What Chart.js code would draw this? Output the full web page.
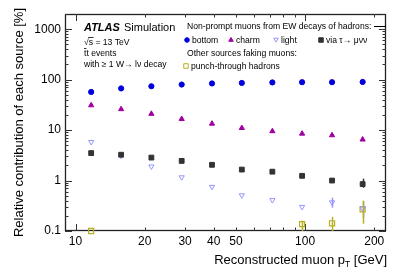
<!DOCTYPE html>
<html>
<head>
<meta charset="utf-8">
<script src="https://cdn.jsdelivr.net/npm/chart.js@4"></script>
<style>
  html, body { margin: 0; padding: 0; background: #fff; }
  #wrap { width: 407px; height: 276px; }
</style>
</head>
<body>
<div id="wrap"><canvas id="fakeChart"></canvas></div>
<script>
// reconstructed muon pT bin centres [GeV]
var ptValues = [11.7, 15.8, 21.4, 29, 39.3, 53, 72, 97, 131, 178];

// relative contribution of each source [%]
var bottomData = [57, 67, 74, 80, 84, 86, 88, 89, 89, 90];
var charmData = [31, 26, 21, 16.6, 13.4, 11, 9.5, 8.5, 7.9, 6.5];
var tauData = [3.5, 3.25, 2.85, 2.45, 2.05, 1.65, 1.5, 1.24, 1.0, 0.85];
var lightData = [5.8, 3.1, 1.9, 1.16, 0.75, 0.51, 0.41, 0.30, 0.37, 0.28];
var punchData = [0.1, null, null, null, null, null, null, 0.137, 0.142, 0.27];

// error bars [low, high] (only where larger than the marker)
var tauErr = [null, null, null, null, null, null, null, null, null, [0.72, 1.09]];
var lightErr = [null, null, null, null, null, null, null, null, [0.29, 0.46], [0.18, 0.39]];
var punchErr = [null, null, null, null, null, null, null, [0.1, 0.16], [0.1, 0.19], [0.14, 0.4]];

var xTicks = [10, 20, 30, 40, 50, 100, 200];
var yTicks = [0.1, 1, 10, 100, 1000];

var FONT = '"Liberation Sans", Arial, Helvetica, sans-serif';

function toPoints(arr) {
    var out = [];
    arr.forEach(function (v, i) {
        if (v !== null) out.push({ x: ptValues[i], y: v });
    });
    return out;
}

// error bars, drawn before the markers
var errorBars = {
    id: 'errorBars',
    beforeDatasetsDraw: function (chart) {
        var ctx = chart.ctx;
        var xs = chart.scales.x, ys = chart.scales.y;
        var sets = [[tauErr, '#333333'], [lightErr, 'rgb(150,150,255)'], [punchErr, 'rgb(185,175,30)']];
        ctx.save();
        ctx.lineWidth = 1.5;
        sets.forEach(function (s) {
            s[0].forEach(function (e, i) {
                if (!e) return;
                var px = Math.round(xs.getPixelForValue(ptValues[i])) + 0.5;
                ctx.strokeStyle = s[1];
                ctx.beginPath();
                ctx.moveTo(px, ys.getPixelForValue(e[0]));
                ctx.lineTo(px, ys.getPixelForValue(e[1]));
                ctx.stroke();
            });
        });
        ctx.restore();
    }
};

// ROOT style frame with inner ticks on all four sides
var frame = {
    id: 'frame',
    beforeDatasetsDraw: function (chart) {
        var ctx = chart.ctx, a = chart.chartArea;
        var xs = chart.scales.x, ys = chart.scales.y;
        ctx.save();
        ctx.strokeStyle = '#222';
        ctx.lineWidth = 1.3;
        ctx.strokeRect(a.left + 0.5, a.top + 0.5, a.right - a.left - 1, a.bottom - a.top - 1);
        ctx.lineWidth = 1;
        ctx.strokeStyle = '#333';
        ctx.beginPath();
        // y ticks
        for (var d = -1; d <= 3; d++) {
            for (var m = 1; m <= 9; m++) {
                var v = m * Math.pow(10, d);
                if (v > 2000) break;
                var py = Math.round(ys.getPixelForValue(v)) + 0.5;
                var len = m === 1 ? 7 : 3.5;
                ctx.moveTo(a.left, py); ctx.lineTo(a.left + len, py);
                ctx.moveTo(a.right, py); ctx.lineTo(a.right - len, py);
            }
        }
        // x ticks
        for (var dx = 1; dx <= 2; dx++) {
            for (var mx = 1; mx <= 9; mx++) {
                var vx = mx * Math.pow(10, dx);
                if (vx < 9 || vx > 225) continue;
                var px = Math.round(xs.getPixelForValue(vx)) + 0.5;
                var l = mx === 1 ? 7 : 3.5;
                ctx.moveTo(px, a.bottom); ctx.lineTo(px, a.bottom - l);
                ctx.moveTo(px, a.top); ctx.lineTo(px, a.top + l);
            }
        }
        ctx.stroke();
        ctx.restore();
    }
};

function marker(ctx, style, x, y, r, fill, stroke, rot) {
    ctx.fillStyle = fill;
    ctx.strokeStyle = stroke;
    ctx.lineWidth = 1;
    Chart.helpers.drawPoint(ctx, { pointStyle: style, radius: r, rotation: rot || 0, borderWidth: 1 }, x, y);
}

// labels, legend and axis titles
var texts = {
    id: 'texts',
    afterDraw: function (chart) {
        var ctx = chart.ctx;
        ctx.save();
        ctx.fillStyle = '#000';
        ctx.textBaseline = 'alphabetic';
        ctx.textAlign = 'left';

        ctx.font = 'italic bold 11px ' + FONT;
        ctx.fillText('ATLAS', 84, 31);
        ctx.font = '11px ' + FONT;
        ctx.fillText('Simulation', 124, 31);

        ctx.font = '8.6px ' + FONT;
        ctx.fillText('\u221As = 13 TeV', 84, 45);
        var w = ctx.measureText('\u221A').width;
        ctx.fillRect(84 + w - 0.5, 37, ctx.measureText('s').width + 1, 0.8);
        ctx.fillText('tt events', 84, 56);
        ctx.fillRect(84, 48, ctx.measureText('t').width, 0.8);
        ctx.fillText('with \u2265 1 W\u2192 l\u03BD decay', 84, 67);

        // legend
        ctx.fillText('Non-prompt muons from EW decays of hadrons:', 187, 29);
        ctx.fillText('Other sources faking muons:', 187, 56);
        ctx.fillText('bottom', 192, 43);
        ctx.fillText('charm', 236, 43);
        ctx.fillText('light', 281, 43);
        ctx.fillText('via \u03C4\u2192 \u03BC\u03BD\u03BD', 326, 43);
        ctx.fillText('punch-through hadrons', 191, 69);
        ctx.beginPath();
        ctx.moveTo(374, 26.5); ctx.lineTo(386, 26.5);
        ctx.strokeStyle = '#000';
        ctx.stroke();
        marker(ctx, 'circle', 187, 40, 2.3, 'rgb(0,0,220)', 'rgb(0,0,220)');
        marker(ctx, 'triangle', 231, 40, 2.6, 'rgb(160,0,160)', 'rgb(160,0,160)');
        marker(ctx, 'triangle', 276, 39.5, 2.6, 'rgba(0,0,0,0)', 'rgb(150,150,255)', 180);
        marker(ctx, 'rect', 321, 40, 3.2, '#333333', '#333333');
        marker(ctx, 'rect', 186, 66, 3.2, 'rgba(0,0,0,0)', 'rgb(185,175,30)');

        // axis titles
        ctx.fillStyle = '#000';
        ctx.font = '13px ' + FONT;
        ctx.textAlign = 'right';
        ctx.fillText(' [GeV]', 387, 264);
        var wg = ctx.measureText(' [GeV]').width;
        ctx.font = '8.5px ' + FONT;
        ctx.fillText('T', 387 - wg, 267);
        var wt = ctx.measureText('T').width;
        ctx.font = '13px ' + FONT;
        ctx.fillText('Reconstructed muon p', 387 - wg - wt, 264);

        ctx.translate(23, 122.5);
        ctx.rotate(-Math.PI / 2);
        ctx.textAlign = 'center';
        ctx.fillText('Relative contribution of each source [%]', 0, 0);
        ctx.restore();
    }
};

var ctx = document.getElementById('fakeChart').getContext('2d');
var chart = new Chart(ctx, {
    type: 'scatter',
    data: {
        datasets: [
            {
                label: 'bottom',
                data: toPoints(bottomData),
                pointStyle: 'circle',
                radius: 2.6,
                backgroundColor: 'rgb(0,0,220)',
                borderColor: 'rgb(0,0,220)',
                clip: false,
            },
            {
                label: 'charm',
                data: toPoints(charmData),
                pointStyle: 'triangle',
                radius: 3,
                backgroundColor: 'rgb(160,0,160)',
                borderColor: 'rgb(160,0,160)',
                clip: false,
            },
            {
                label: 'via tau',
                data: toPoints(tauData),
                pointStyle: 'rect',
                radius: 3.4,
                backgroundColor: '#333333',
                borderColor: '#333333',
                clip: false,
            },
            {
                label: 'light',
                data: toPoints(lightData),
                pointStyle: 'triangle',
                rotation: 180,
                radius: 3,
                backgroundColor: 'rgba(255,255,255,0)',
                borderColor: 'rgb(150,150,255)',
                borderWidth: 1,
                clip: false,
            },
            {
                label: 'punch-through hadrons',
                data: toPoints(punchData),
                pointStyle: 'rect',
                radius: 3.6,
                backgroundColor: 'rgba(255,255,255,0)',
                borderColor: 'rgb(185,175,30)',
                borderWidth: 1.2,
                clip: false,
            },
        ],
    },
    options: {
        responsive: true,
        maintainAspectRatio: false,
        animation: false,
        layout: { padding: { top: 14, right: 21, left: 0, bottom: 0 } },
        plugins: { legend: { display: false }, tooltip: { enabled: false } },
        scales: {
            x: {
                type: 'logarithmic',
                min: 9,
                max: 225,
                grid: { display: false, drawTicks: false },
                border: { display: false },
                afterBuildTicks: function (s) { s.ticks = xTicks.map(function (v) { return { value: v }; }); },
                afterFit: function (s) { s.height = 45; },
                ticks: {
                    autoSkip: false,
                    maxRotation: 0,
                    padding: 3,
                    color: '#000',
                    font: { family: FONT, size: 12 },
                    callback: function (v) { return String(v); },
                },
            },
            y: {
                type: 'logarithmic',
                min: 0.1,
                max: 2000,
                grid: { display: false, drawTicks: false },
                border: { display: false },
                afterBuildTicks: function (s) { s.ticks = yTicks.map(function (v) { return { value: v }; }); },
                afterFit: function (s) { s.width = 65; },
                ticks: {
                    autoSkip: false,
                    padding: 4,
                    color: '#000',
                    font: { family: FONT, size: 12 },
                    callback: function (v) { return String(v); },
                },
            },
        },
    },
    plugins: [frame, errorBars, texts],
});
</script>
</body>
</html>
